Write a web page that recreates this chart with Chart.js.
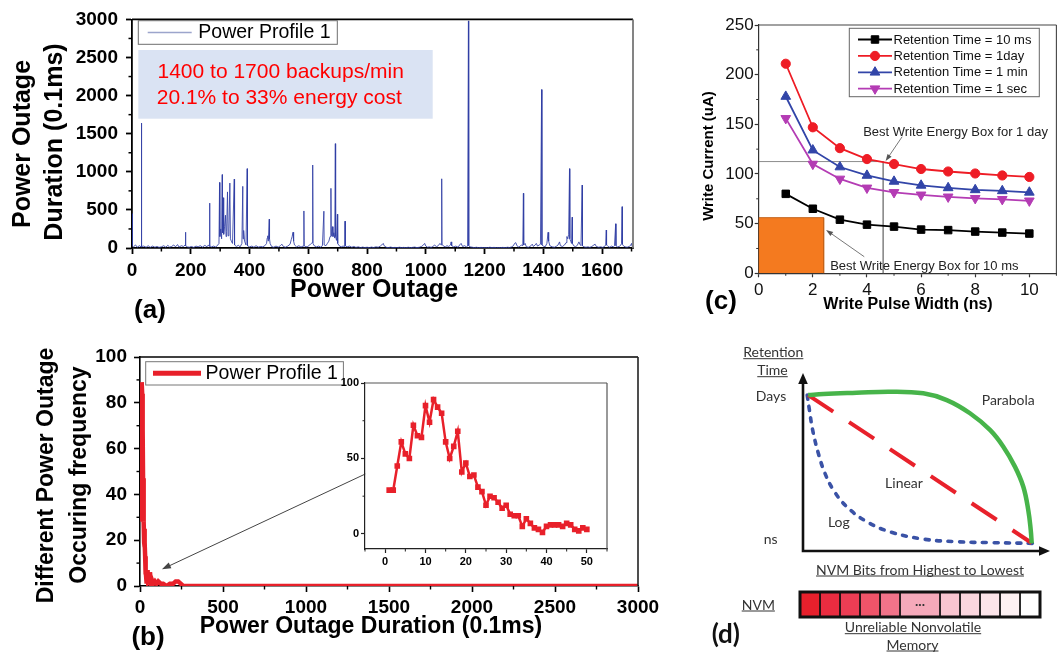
<!DOCTYPE html>
<html>
<head>
<meta charset="utf-8">
<script src="https://cdn.jsdelivr.net/npm/chart.js@4.4.0/dist/chart.umd.min.js"></script>
<style>
  body { margin: 0; background: #fff; }
  #wrap { position: relative; width: 1063px; height: 653px; overflow: hidden; background: #fff; }
  canvas { position: absolute; }
</style>
</head>
<body>
<div id="wrap">
  <canvas id="chartA" width="690" height="330" style="left:0;top:0"></canvas>
  <canvas id="chartB" width="690" height="323" style="left:0;top:330px"></canvas>
  <canvas id="chartInset" width="300" height="205" style="left:336px;top:372px"></canvas>
  <canvas id="chartC" width="373" height="330" style="left:690px;top:0"></canvas>
  <canvas id="chartD" width="373" height="323" style="left:690px;top:330px"></canvas>
  <canvas id="chartNvm" width="246" height="31" style="left:797px;top:589px"></canvas>
</div>
<script>
// ---------- (a) power outage duration per outage, [outage index, duration in 0.1ms] ----------
const profile1Points = [
  [0,450],[1,30],[5,15],[12,40],[18,10],[25,30],[31,15],[32,1640],[33,20],[40,25],[48,10],[55,30],
  [62,8],[70,25],[78,10],[85,20],[92,8],[100,15],[108,30],[115,10],[122,35],[128,12],[135,20],[142,40],
  [148,15],[155,45],[160,12],[168,30],[175,20],[181,40],[182,207],[183,30],[188,15],[195,10],[202,20],
  [210,8],[218,25],[225,15],[232,30],[240,12],[248,35],[255,15],[260,40],[263,20],[264,589],[265,30],
  [270,15],[278,25],[285,12],[292,40],[296,60],[298,860],[299,150],[302,250],[305,120],[307,963],[308,200],
  [310,660],[312,180],[315,280],[318,430],[320,150],[322,220],[325,736],[327,160],[330,250],[333,852],
  [335,120],[338,90],[342,60],[348,904],[349,40],[355,20],[362,35],[368,15],[374,60],[377,809],[378,120],
  [380,230],[383,90],[388,40],[392,1041],[393,30],[400,15],[408,25],[415,10],[422,30],[430,12],[438,20],
  [445,15],[452,30],[458,60],[460,130],[462,160],[464,90],[467,378],[468,120],[470,60],[475,20],[482,10],
  [490,25],[498,12],[505,30],[510,50],[515,20],[522,10],[530,25],[538,50],[542,110],[545,150],[548,207],
  [550,90],[553,40],[560,15],[568,30],[575,12],[582,25],[585,486],[586,30],[592,15],[598,20],[605,40],
  [610,60],[613,70],[615,1089],[616,60],[620,30],[628,15],[635,25],[642,12],[648,30],[653,483],[654,40],
  [660,30],[665,60],[670,90],[674,150],[677,783],[678,160],[680,220],[682,280],[684,150],[687,200],
  [690,130],[692,1369],[693,150],[696,100],[699,443],[700,60],[705,30],[712,15],[718,25],[724,20],
  [725,352],[726,30],[732,15],[740,25],[748,10],[755,20],[762,8],[770,15],[778,5],[785,12],[792,6],
  [800,10],[808,5],[815,12],[822,6],[830,15],[838,10],[845,25],[850,40],[855,60],[858,30],[865,10],
  [872,5],[880,12],[888,5],[895,8],[902,4],[910,10],[918,5],[925,8],[932,4],[940,10],[948,5],[955,8],
  [962,12],[970,5],[978,10],[985,20],[992,40],[996,60],[1000,25],[1006,10],[1012,15],[1018,8],[1024,20],
  [1030,40],[1036,15],[1042,30],[1048,60],[1052,40],[1054,908],[1055,50],[1060,25],[1066,15],[1072,30],
  [1078,20],[1084,40],[1086,80],[1088,30],[1095,15],[1102,25],[1110,10],[1115,40],[1120,60],[1125,20],
  [1132,30],[1138,15],[1142,25],[1145,2980],[1146,30],[1150,15],[1158,10],[1165,5],[1172,10],[1180,4],
  [1188,8],[1195,4],[1202,6],[1210,4],[1218,10],[1225,5],[1232,8],[1240,4],[1248,6],[1255,4],[1262,8],
  [1270,4],[1278,10],[1285,6],[1292,15],[1298,30],[1302,60],[1306,70],[1310,30],[1315,15],[1320,20],
  [1325,40],[1330,30],[1332,718],[1333,40],[1338,60],[1342,15],[1350,10],[1358,30],[1362,50],[1366,20],
  [1372,40],[1376,60],[1380,25],[1386,40],[1390,50],[1394,2079],[1395,40],[1400,25],[1406,15],[1412,60],
  [1416,206],[1418,90],[1422,30],[1430,15],[1438,10],[1445,25],[1450,40],[1455,80],[1458,30],[1465,20],
  [1472,40],[1477,70],[1480,150],[1483,120],[1486,180],[1489,1041],[1490,120],[1493,90],[1496,60],
  [1498,404],[1499,60],[1503,30],[1510,15],[1516,40],[1521,80],[1524,50],[1528,30],[1532,826],[1533,30],
  [1538,15],[1545,10],[1552,15],[1558,8],[1565,20],[1572,40],[1576,50],[1580,20],[1588,10],[1595,15],
  [1602,8],[1608,20],[1612,40],[1614,236],[1615,40],[1620,20],[1626,10],[1632,25],[1638,15],[1642,30],
  [1646,318],[1647,30],[1652,15],[1658,20],[1664,40],[1666,60],[1668,542],[1669,50],[1672,30],[1678,15],
  [1685,10],[1692,20],[1698,40],[1700,60],[1702,20],[1705,10]
];
const infoLines = ['1400 to 1700 backups/min', '20.1% to 33% energy cost'];

// ---------- (b) occurrence frequency of each outage duration ----------
const freqDuration = [1,2,3,4,5,6,7,8,9,10,11,12,13,14,15,16,17,18,19,20,21,22,23,24,25,
                      26,27,28,29,30,31,32,33,34,35,36,37,38,39,40,41,42,43,44,45,46,47,48,49,50];
const freqCount = [29,29,45,61,53,50,72,65,64,85,74,89,84,80,61,50,58,68,41,47,38,39,31,28,19,
                   25,24,21,17,19,13,12,12,5,10,7,4,3,1,5,6,6,6,5,7,6,3,2,4,3];
const tailDuration = [55,60,65,70,80,90,100,110,125,140,160,180,200,215,230,245,260,3000];
const tailCount = [4,6,2,3,1,2,1,2,1,1,0,1,1,2,2,1,0,0];

// ---------- (c) write current vs pulse width ----------
const pulseWidth = [1,2,3,4,5,6,7,8,9,10];
const current10ms = [80,65,54,49,47,44,43.5,42,41,40];
const current1day = [211,147,126,115,110,105,102.5,100.5,98.5,97];
const current1min = [178,124,107,98.5,92.5,88.5,86,84,83,81.5];
const current1sec = [156,110,95,86,81.5,79,77,75.5,74.5,73];
const box10msCorner = [2.4, 56];
const box1dayCorner = [4.6, 112.5];

// ---------- (d) retention time vs NVM bit position (schematic) ----------
const parabolaX = [2.1,8.2,21.7,35.2,48.7,58.2,67.6,75.7,81.1,85.8,89.2,91.2,92.2,92.6];
const parabolaY = [87.6,88.2,88.9,89.5,88.6,84.8,77.4,68,58.6,47.4,36.1,23,11.8,4.3];
const linearX = [2.1,92.6];
const linearY = [87.6,4.5];
const logX = [1.7,2.6,3.9,6.2,8.9,12.3,17.7,25.8,35.2,48.7,62.2,75.7,93.2];
const logY = [87.6,79.2,68,54.9,43.6,34.3,24.9,16.5,10.8,6.7,5.2,4.7,4.3];
const nvmCellWidth = [1,1,1,1,1,2,1,1,1,1,1];
const nvmCellColor = ['#e8202c','#ea2c40','#ec3d54','#ef5469','#f17389','#f5a9ba',
                      '#f8c5d0','#fad6de','#fce5ea','#fdf1f3','#ffffff'];

// ---------- helpers ----------
Chart.defaults.font.family = "'Liberation Sans', Arial, sans-serif";
Chart.defaults.color = '#000';

const AR = "'Liberation Sans', Arial, sans-serif";
const LATO = "Lato, 'Open Sans', sans-serif";
const toXY = (xs, ys) => xs.map((x, i) => ({x: x, y: ys[i]}));

function axis(o) {
  return {
    type: 'linear', min: o.min, max: o.max,
    afterFit: s => { if (s.isHorizontal()) s.height = o.size; else s.width = o.size; },
    // major ticks only at whole steps between lo and hi
    afterBuildTicks: s => {
      const t = [];
      for (let i = Math.round(o.lo / o.step); i * o.step <= o.hi + 1e-9; i++) t.push({ value: i * o.step });
      s.ticks = t;
    },
    ticks: { font: o.font, color: o.color || '#000', padding: o.pad,
             autoSkip: false, maxRotation: 0, callback: v => String(v) },
    grid: { drawOnChartArea: false, tickLength: o.tick, tickColor: o.line, tickWidth: o.width },
    border: { color: o.line, width: o.width }
  };
}

function text(ctx, str, x, y, font, color, align, rotate) {
  ctx.save();
  ctx.font = font;
  ctx.fillStyle = color;
  ctx.textAlign = align || 'center';
  ctx.textBaseline = 'middle';
  ctx.translate(x, y);
  if (rotate) ctx.rotate(rotate);
  ctx.fillText(str, 0, 0);
  ctx.restore();
}

function underlined(ctx, str, x, y, font, color, gap) {
  text(ctx, str, x, y, font, color);
  ctx.save();
  ctx.font = font;
  const w = ctx.measureText(str).width;
  ctx.strokeStyle = color;
  ctx.lineWidth = 1;
  ctx.beginPath();
  ctx.moveTo(x - w / 2, y + gap);
  ctx.lineTo(x + w / 2, y + gap);
  ctx.stroke();
  ctx.restore();
}

function arrow(ctx, x1, y1, x2, y2, color, width, head) {
  const ang = Math.atan2(y2 - y1, x2 - x1);
  ctx.save();
  ctx.strokeStyle = color;
  ctx.fillStyle = color;
  ctx.lineWidth = width;
  ctx.beginPath();
  ctx.moveTo(x1, y1);
  ctx.lineTo(x2 - Math.cos(ang) * head * 0.8, y2 - Math.sin(ang) * head * 0.8);
  ctx.stroke();
  ctx.translate(x2, y2);
  ctx.rotate(ang);
  ctx.beginPath();
  ctx.moveTo(0, 0);
  ctx.lineTo(-head, -head * 0.35);
  ctx.lineTo(-head, head * 0.35);
  ctx.closePath();
  ctx.fill();
  ctx.restore();
}

function drawMinor(ctx, scale, step, len) {
  if (!step) return;
  const major = scale.ticks.map(t => t.value);
  for (let i = Math.ceil(scale.min / step); i * step <= scale.max + 1e-9; i++) {
    const v = i * step;
    if (major.some(m => Math.abs(m - v) < 1e-9)) continue;
    const p = scale.getPixelForValue(v);
    ctx.beginPath();
    if (scale.isHorizontal()) { ctx.moveTo(p, scale.top); ctx.lineTo(p, scale.top + len); }
    else { ctx.moveTo(scale.right - len, p); ctx.lineTo(scale.right, p); }
    ctx.stroke();
  }
}

// box on top/right of the plot plus minor tick marks
const framePlugin = {
  id: 'frame',
  afterDatasetsDraw(chart, args, o) {
    const {ctx, chartArea: a} = chart;
    ctx.save();
    ctx.lineWidth = o.width;
    ctx.strokeStyle = o.top;
    ctx.beginPath(); ctx.moveTo(a.left, a.top); ctx.lineTo(a.right, a.top); ctx.stroke();
    ctx.strokeStyle = o.right;
    ctx.beginPath(); ctx.moveTo(a.right, a.top); ctx.lineTo(a.right, a.bottom); ctx.stroke();
    ctx.strokeStyle = o.tick;
    ctx.lineWidth = o.tickWidth;
    drawMinor(ctx, chart.scales.x, o.minorX, o.minorLen);
    drawMinor(ctx, chart.scales.y, o.minorY, o.minorLen);
    ctx.restore();
  }
};

const common = { responsive: false, animation: false, events: [],
                 plugins: { legend: { display: false }, tooltip: { enabled: false } } };

// ---------- (a) ----------
const decorA = {
  id: 'decorA',
  afterDraw(chart) {
    const ctx = chart.ctx;
    const ds = chart.data.datasets[0];
    ctx.save();
    ctx.fillStyle = '#fff';
    ctx.fillRect(138.3, 20.7, 199, 23.6);
    ctx.strokeStyle = '#6d6d6d';
    ctx.lineWidth = 1;
    ctx.strokeRect(138.3, 20.7, 199, 23.6);
    ctx.strokeStyle = '#9ca5cc';
    ctx.lineWidth = 1.5;
    ctx.beginPath(); ctx.moveTo(147.7, 32.5); ctx.lineTo(191.7, 32.5); ctx.stroke();
    ctx.fillStyle = '#dae3f3';
    ctx.fillRect(138.3, 50, 294.4, 68.7);
    ctx.restore();
    text(ctx, ds.label, 198.3, 33, '19.5px ' + AR, '#000', 'left');
    text(ctx, infoLines[0], 157.5, 72.5, '21px ' + AR, '#ff0000', 'left');
    text(ctx, infoLines[1], 156.7, 98, '21px ' + AR, '#ff0000', 'left');
    text(ctx, 'Power Outage', 23, 144, 'bold 25px ' + AR, '#000', 'center', -Math.PI / 2);
    text(ctx, 'Duration (0.1ms)', 55, 142, 'bold 25px ' + AR, '#000', 'center', -Math.PI / 2);
    text(ctx, 'Power Outage', 374, 290, 'bold 25px ' + AR, '#000');
    text(ctx, '(a)', 150, 311, 'bold 26px ' + AR, '#000');
  }
};

new Chart(document.getElementById('chartA'), {
  type: 'line',
  data: { datasets: [{
    label: 'Power Profile 1',
    data: profile1Points.map(p => ({x: p[0], y: p[1]})),
    borderColor: 'rgba(48,62,165,0.85)',
    borderWidth: 1,
    pointRadius: 0,
    tension: 0
  }]},
  options: Object.assign({}, common, {
    layout: { padding: { top: 16, right: 57, left: 0, bottom: 0 } },
    plugins: Object.assign({}, common.plugins, {
      frame: { top: '#000', right: '#777', width: 1.8, tick: '#000', tickWidth: 1.5,
               minorX: 100, minorY: 250, minorLen: 3.5 }
    }),
    scales: {
      x: axis({ min: 0, max: 1705, step: 200, lo: 0, hi: 1600, size: 82, pad: 5, tick: 6,
                line: '#000', width: 1.8, font: { size: 19, weight: 'bold' } }),
      y: axis({ min: 0, max: 3000, step: 500, lo: 0, hi: 3000, size: 132, pad: 8, tick: 6,
                line: '#000', width: 1.8, font: { size: 19, weight: 'bold' } })
    }
  }),
  plugins: [framePlugin, decorA]
});

// ---------- (b) ----------
const decorB = {
  id: 'decorB',
  afterDraw(chart) {
    const ctx = chart.ctx;
    const {x, y} = chart.scales;
    const ds = chart.data.datasets[0];
    ctx.save();
    ctx.fillStyle = '#fff';
    ctx.fillRect(145.7, 31.7, 197.7, 23.3);
    ctx.strokeStyle = '#777';
    ctx.lineWidth = 1;
    ctx.strokeRect(145.7, 31.7, 197.7, 23.3);
    ctx.strokeStyle = ds.borderColor;
    ctx.lineWidth = 5;
    ctx.beginPath(); ctx.moveTo(153, 43.3); ctx.lineTo(201, 43.3); ctx.stroke();
    ctx.restore();
    text(ctx, ds.label, 205.6, 43.8, '19.5px ' + AR, '#000', 'left');
    arrow(ctx, x.getPixelForValue(1357), y.getPixelForValue(48.9),
          x.getPixelForValue(132), y.getPixelForValue(7.3), '#444', 1, 9);
    text(ctx, 'Different Power Outage', 47, 145.5, 'bold 23px ' + AR, '#000', 'center', -Math.PI / 2);
    text(ctx, 'Occuring frequency', 80, 145, 'bold 23px ' + AR, '#000', 'center', -Math.PI / 2);
    text(ctx, 'Power Outage Duration (0.1ms)', 371, 297, 'bold 23px ' + AR, '#000');
    text(ctx, '(b)', 148, 308, 'bold 26px ' + AR, '#000');
  }
};

new Chart(document.getElementById('chartB'), {
  type: 'line',
  data: { datasets: [{
    label: 'Power Profile 1',
    data: toXY(freqDuration.concat(tailDuration), freqCount.concat(tailCount)),
    borderColor: '#e8202a',
    borderWidth: 4.5,
    pointRadius: 0,
    tension: 0
  }]},
  options: Object.assign({}, common, {
    layout: { padding: { top: 27, right: 52, left: 0, bottom: 0 } },
    plugins: Object.assign({}, common.plugins, {
      frame: { top: '#000', right: '#222', width: 1.6, tick: '#000', tickWidth: 1.4,
               minorX: 250, minorY: 10, minorLen: 3.5 }
    }),
    scales: {
      x: axis({ min: 0, max: 3000, step: 500, lo: 0, hi: 3000, size: 67, pad: 4, tick: 6,
                line: '#000', width: 1.6, font: { size: 19, weight: 'bold' } }),
      y: axis({ min: 0, max: 100, step: 20, lo: 0, hi: 100, size: 140, pad: 7, tick: 6,
                line: '#000', width: 1.6, font: { size: 19, weight: 'bold' } })
    }
  }),
  plugins: [framePlugin, decorB]
});

// ---------- (b) inset ----------
new Chart(document.getElementById('chartInset'), {
  type: 'line',
  data: { datasets: [{
    data: toXY(freqDuration, freqCount),
    borderColor: '#e8202a',
    backgroundColor: '#e8202a',
    borderWidth: 2.5,
    pointStyle: 'rect',
    pointRadius: 2.2,
    tension: 0
  }]},
  options: Object.assign({}, common, {
    layout: { padding: { top: 11, right: 29, left: 0, bottom: 0 } },
    plugins: Object.assign({}, common.plugins, {
      frame: { top: '#555', right: '#555', width: 1.2, tick: '#222', tickWidth: 1,
               minorX: 5, minorY: 25, minorLen: 2.5 }
    }),
    scales: {
      x: axis({ min: -5, max: 55, step: 10, lo: 0, hi: 50, size: 28, pad: 2, tick: 4,
                line: '#222', width: 1.2, font: { size: 11, weight: 'bold' } }),
      y: axis({ min: -10, max: 100, step: 50, lo: 0, hi: 100, size: 29, pad: 2, tick: 4,
                line: '#222', width: 1.2, font: { size: 11, weight: 'bold' } })
    }
  }),
  plugins: [framePlugin]
});

// ---------- (c) ----------
const seriesC = [
  { label: 'Retention Time = 10 ms', values: current10ms, color: '#000000', style: 'rect', rot: 0, r: 5.3 },
  { label: 'Retention Time = 1day', values: current1day, color: '#ee1c25', style: 'circle', rot: 0, r: 4.6 },
  { label: 'Retention Time = 1 min', values: current1min, color: '#3245a8', style: 'triangle', rot: 0, r: 5.6 },
  { label: 'Retention Time = 1 sec', values: current1sec, color: '#b43cb4', style: 'triangle', rot: 180, r: 5.6 }
];

const decorC = {
  id: 'decorC',
  afterDraw(chart) {
    const ctx = chart.ctx;
    const {x, y} = chart.scales;
    ctx.save();
    ctx.fillStyle = '#fff';
    ctx.fillRect(159.3, 28.3, 190, 68.4);
    ctx.strokeStyle = '#666';
    ctx.lineWidth = 1;
    ctx.strokeRect(159.3, 28.3, 190, 68.4);
    seriesC.forEach((s, i) => {
      const ry = 39.5 + i * 16.4;
      ctx.strokeStyle = s.color;
      ctx.fillStyle = s.color;
      ctx.lineWidth = 1.8;
      ctx.beginPath(); ctx.moveTo(168, ry); ctx.lineTo(202, ry); ctx.stroke();
      ctx.lineWidth = 1;
      Chart.helpers.drawPoint(ctx, { pointStyle: s.style, radius: s.r, rotation: s.rot, borderWidth: 1 }, 185, ry);
      text(ctx, s.label, 203.5, ry + 0.5, '13px ' + AR, '#111', 'left');
    });
    ctx.restore();
    text(ctx, 'Best Write Energy Box for 1 day', x.getPixelForValue(3.86), y.getPixelForValue(142),
         '13px ' + AR, '#222', 'left');
    arrow(ctx, x.getPixelForValue(5.3), y.getPixelForValue(137.5),
          x.getPixelForValue(4.69), y.getPixelForValue(113), '#555', 0.8, 7);
    text(ctx, 'Best Write Energy Box for 10 ms', x.getPixelForValue(2.64), y.getPixelForValue(6.6),
         '13px ' + AR, '#222', 'left');
    arrow(ctx, x.getPixelForValue(3.9), y.getPixelForValue(16.7),
          x.getPixelForValue(2.49), y.getPixelForValue(43.6), '#555', 0.8, 7);
    text(ctx, 'Write Current (uA)', 19, 156, 'bold 15px ' + AR, '#000', 'center', -Math.PI / 2);
    text(ctx, 'Write Pulse Width (ns)', 218, 305, 'bold 16px ' + AR, '#000');
    text(ctx, '(c)', 31, 302, 'bold 26px ' + AR, '#000');
  }
};

new Chart(document.getElementById('chartC'), {
  type: 'line',
  data: { datasets: seriesC.map((s, i) => ({
    label: s.label,
    data: toXY(pulseWidth, s.values),
    borderColor: s.color,
    backgroundColor: s.color,
    borderWidth: 1.8,
    pointStyle: s.style,
    pointRotation: s.rot,
    pointRadius: s.r,
    pointBorderWidth: 1,
    tension: 0,
    order: i
  })).concat([
    { data: [{x: 0, y: box1dayCorner[1]}, {x: box1dayCorner[0], y: box1dayCorner[1]}, {x: box1dayCorner[0], y: 0}],
      borderColor: '#8c8c8c', borderWidth: 1, pointRadius: 0, order: 8 },
    { data: [{x: 0, y: 0}, {x: 0, y: box10msCorner[1]}, {x: box10msCorner[0], y: box10msCorner[1]}, {x: box10msCorner[0], y: 0}],
      borderColor: '#c4621a', borderWidth: 1, backgroundColor: '#f47a1f', fill: 'origin', pointRadius: 0, order: 9 }
  ])},
  options: Object.assign({}, common, {
    layout: { padding: { top: 25, right: 4.7, left: 0, bottom: 0 } },
    plugins: Object.assign({}, common.plugins, {
      frame: { top: '#444', right: '#444', width: 1.1, tick: '#333', tickWidth: 1,
               minorX: 1, minorY: 25, minorLen: 2.5 }
    }),
    scales: {
      x: axis({ min: 0, max: 11, step: 2, lo: 0, hi: 10, size: 56.7, pad: 3, tick: 4,
                line: '#333', width: 1.2, color: '#111', font: { size: 17 } }),
      y: axis({ min: 0, max: 250, step: 50, lo: 0, hi: 250, size: 68.7, pad: 1, tick: 4,
                line: '#333', width: 1.2, color: '#111', font: { size: 17 } })
    }
  }),
  plugins: [framePlugin, decorC]
});

// ---------- (d) ----------
const decorD = {
  id: 'decorD',
  beforeDatasetsDraw(chart) {
    const {ctx, chartArea: a} = chart;
    ctx.save();
    ctx.strokeStyle = '#111';
    ctx.fillStyle = '#111';
    ctx.lineWidth = 2.6;
    ctx.beginPath();
    ctx.moveTo(a.left, a.bottom); ctx.lineTo(a.left, a.top + 9);
    ctx.moveTo(a.left - 1.3, a.bottom); ctx.lineTo(a.right - 9, a.bottom);
    ctx.stroke();
    ctx.beginPath();
    ctx.moveTo(a.left, a.top); ctx.lineTo(a.left - 4.8, a.top + 11); ctx.lineTo(a.left + 4.8, a.top + 11);
    ctx.closePath(); ctx.fill();
    ctx.beginPath();
    ctx.moveTo(a.right, a.bottom); ctx.lineTo(a.right - 11, a.bottom - 4.8); ctx.lineTo(a.right - 11, a.bottom + 4.8);
    ctx.closePath(); ctx.fill();
    ctx.restore();
  },
  afterDraw(chart) {
    const ctx = chart.ctx;
    const {x, y} = chart.scales;
    const f = '14px ' + LATO;
    const c = '#333';
    underlined(ctx, 'Retention', 83.3, 22.7, f, c, 6);
    underlined(ctx, 'Time', 82.5, 40.7, f, c, 6);
    text(ctx, 'Days', 81, y.getPixelForValue(86.7), f, c);
    text(ctx, 'ns', 80.7, y.getPixelForValue(6.2), f, c);
    text(ctx, 'Parabola', x.getPixelForValue(83.1), y.getPixelForValue(84.8), f, c);
    text(ctx, 'Linear', x.getPixelForValue(40.9), y.getPixelForValue(38), f, c);
    text(ctx, 'Log', x.getPixelForValue(14.5), y.getPixelForValue(15.9), f, c);
    underlined(ctx, 'NVM Bits from Highest to Lowest', 230, 240, f, c, 6);
    underlined(ctx, 'NVM', 68.3, 275, f, c, 6);
    underlined(ctx, 'Unreliable Nonvolatile', 223, 297.7, f, c, 6);
    underlined(ctx, 'Memory', 222.5, 315, f, c, 6);
    text(ctx, '(d)', 35.8, 305, 'bold 26px ' + LATO, '#111');
  }
};

new Chart(document.getElementById('chartD'), {
  type: 'line',
  data: { datasets: [
    { label: 'Parabola', data: toXY(parabolaX, parabolaY), borderColor: '#47b44a', borderWidth: 4.5,
      pointRadius: 0, tension: 0.4 },
    { label: 'Linear', data: toXY(linearX, linearY), borderColor: '#e8212b', borderWidth: 4,
      borderDash: [30, 19], pointRadius: 0 },
    { label: 'Log', data: toXY(logX, logY), borderColor: '#3a52a6', borderWidth: 3.6,
      borderDash: [4, 7.5], borderCapStyle: 'round', pointRadius: 0, tension: 0.4 }
  ]},
  options: Object.assign({}, common, {
    layout: { padding: { top: 43, right: 13, left: 113, bottom: 102 } },
    scales: {
      x: { type: 'linear', min: 0, max: 100, display: false },
      y: { type: 'linear', min: 0, max: 100, display: false }
    }
  }),
  plugins: [decorD]
});

// ---------- (d) NVM cell strip ----------
const nvmDecor = {
  id: 'nvmDecor',
  afterDraw(chart) {
    const {ctx, chartArea: a} = chart;
    ctx.save();
    ctx.strokeStyle = '#111';
    ctx.lineWidth = 3;
    ctx.strokeRect(a.left, a.top, a.right - a.left, a.bottom - a.top);
    ctx.restore();
    const mid = chart.getDatasetMeta(5).data[0];
    text(ctx, '...', mid.x - (mid.x - mid.base) / 2, (a.top + a.bottom) / 2 - 3, 'bold 14px ' + LATO, '#333');
  }
};

new Chart(document.getElementById('chartNvm'), {
  type: 'bar',
  data: { labels: ['NVM'], datasets: nvmCellWidth.map((w, i) => ({
    data: [w],
    backgroundColor: nvmCellColor[i],
    borderColor: '#111',
    borderWidth: 1.2,
    borderSkipped: false,
    barPercentage: 1,
    categoryPercentage: 1
  }))},
  options: Object.assign({}, common, {
    indexAxis: 'y',
    layout: { padding: 3 },
    scales: {
      x: { stacked: true, min: 0, max: 12, display: false },
      y: { stacked: true, display: false }
    }
  }),
  plugins: [nvmDecor]
});
</script>
</body>
</html>
